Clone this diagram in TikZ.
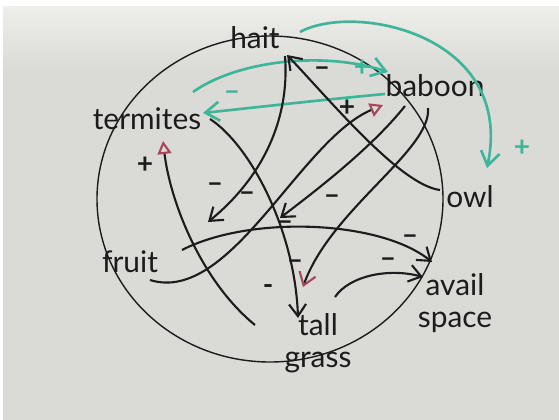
\documentclass[tikz,border=0pt]{standalone}
\usepackage{fontspec}
\setmainfont{Lato}
\usetikzlibrary{arrows.meta}
\definecolor{board}{HTML}{DADAD6}
\definecolor{boardtop}{HTML}{EEEEEA}
\definecolor{ink}{HTML}{1C1C1C}
\definecolor{teal}{HTML}{3DB59A}
\definecolor{redink}{HTML}{A4485A}

\begin{document}
\begin{tikzpicture}[
  x=0.02cm,y=-0.02cm,
  word/.style={text=ink,font=\fontsize{17}{18}\selectfont,inner sep=1pt,align=center},
  sign/.style={text=ink,font=\fontsize{16}{16}\selectfont\bfseries,inner sep=0pt},
  tealsign/.style={sign,text=teal},
  link/.style={draw=ink,line width=1.2pt,-{Straight Barb[length=2.4mm,width=3.4mm]}},
  redlink/.style={link,-{Straight Barb[length=2.4mm,width=3.4mm,color=redink]}},
  poslink/.style={draw=ink,line width=1.2pt,-{Triangle[open,length=2.6mm,width=2.8mm,color=redink,line width=1.2pt]}},
  greenlink/.style={draw=teal,line width=1.5pt,-{Straight Barb[length=2.8mm,width=3.8mm]}}
]
\useasboundingbox (0,0) rectangle (559,420);
\fill[board] (0,0) rectangle (559,420);
\shade[top color=boardtop,bottom color=board] (0,6) rectangle (559,70);
\fill[white] (0,0) rectangle (559,6);
\fill[white] (0,0) rectangle (3,420);

\draw[ink,line width=0.8pt] (270,199) ellipse [x radius=173,y radius=163];

\node[word] (hait) at (255,38) {hait};
\node[word] (baboon) at (435,86) {baboon};
\node[word] (termites) at (147,119) {termites};
\node[word] (owl) at (470,197) {owl};
\node[word] (fruit) at (130,262) {fruit};
\node[word] (avail) at (455,303) {avail\\space};
\node[word] (grass) at (318,343) {tall\\grass};

\draw[greenlink] ([shift={(46,-27)}]termites.center)
  .. controls (235,62) and (320,50) .. ([shift={(-47,-14)}]baboon.center);
\draw[greenlink] ([shift={(-50,8)}]baboon.center)
  .. controls (320,100) and (250,108) .. ([shift={(56,-6)}]termites.center);
\draw[greenlink] ([shift={(45,-6)}]hait.center)
  .. controls (355,2) and (515,35) .. ([shift={(17,-29)}]owl.center);

\draw[link] ([shift={(30,18)}]hait.center)
  .. controls (290,120) and (262,178) .. ([shift={(78,-40)}]fruit.center);
\draw[link] ([shift={(-30,-7)}]owl.center)
  .. controls (400,185) and (330,100) .. ([shift={(32,17)}]hait.center);
\draw[link] ([shift={(63,0)}]termites.center)
  .. controls (250,145) and (295,230) .. ([shift={(-20,-25)}]grass.center);
\draw[link] ([shift={(-30,20)}]baboon.center)
  .. controls (370,150) and (310,195) .. ([shift={(150,-44)}]fruit.center);
\draw[redlink] ([shift={(-7,22)}]baboon.center)
  .. controls (432,150) and (330,210) .. ([shift={(-15,-56)}]grass.center);
\draw[poslink] ([shift={(20,18)}]fruit.center)
  .. controls (230,305) and (300,140) .. ([shift={(-52,19)}]baboon.center);
\draw[poslink] ([shift={(-63,-18)}]grass.center)
  .. controls (200,280) and (170,200) .. ([shift={(16,22)}]termites.center);
\draw[link] ([shift={(52,-12)}]fruit.center)
  .. controls (250,215) and (380,220) .. ([shift={(-23,-41)}]avail.center);
\draw[link] ([shift={(17,-46)}]grass.center)
  .. controls (350,275) and (390,268) .. ([shift={(-32,-26)}]avail.center);

\node[tealsign] (s1) at (362,68) {+};
\node[tealsign] (s2) at (232,96) {--};
\node[tealsign] (s3) at (522,148) {+};
\node[sign] (s4) at (215,188) {--};
\node[sign] (s5) at (322,72) {--};
\node[sign] (s6) at (247,197) {--};
\node[sign] (s7) at (285,226) {--};
\node[sign] (s8) at (332,200) {--};
\node[sign] (s9) at (295,265) {--};
\node[sign] (s10) at (347,108) {+};
\node[sign] (s11) at (145,165) {+};
\node[sign] (s12) at (410,240) {--};
\node[sign] (s13) at (388,263) {--};
\node[sign] (s14) at (268,290) {-};
\end{tikzpicture}
\end{document}
